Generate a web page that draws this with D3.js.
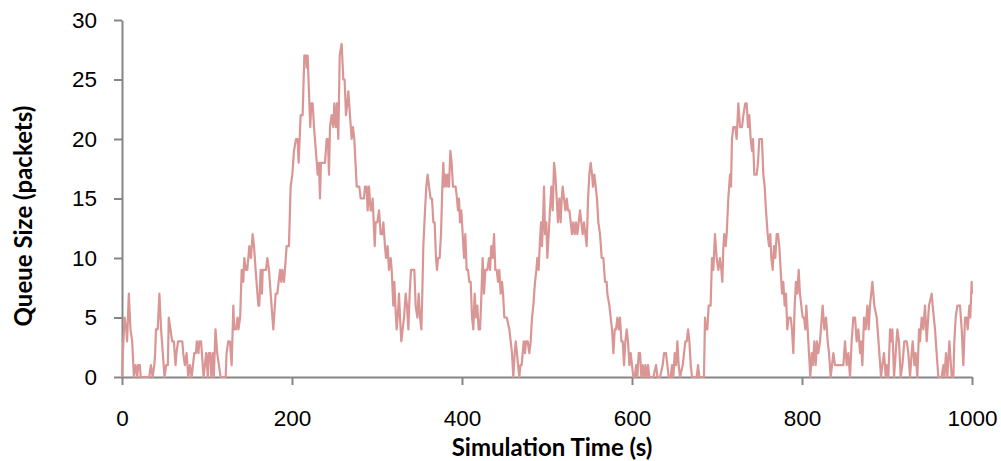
<!DOCTYPE html>
<html>
<head>
<meta charset="utf-8">
<script src="https://cdn.jsdelivr.net/npm/d3@7"></script>
<style>
    body { margin: 0; background: #fff; }
    svg { display: block; font-family: Lato, "Open Sans", sans-serif; }
    .axis path, .axis line { stroke: #868686; stroke-width: 2; }
    .axis text { fill: #000; font-size: 22.5px; }
    .title { font-weight: bold; font-size: 24px; fill: #000; }
</style>
</head>
<body>
<svg id="chart" width="1001" height="461"></svg>
<script>
// queue trace (time in s, size in packets)
let simTime = [
    0,1,3,5,6,8,10,12,14,16,18,19,21,22,32,34,36,38,39,40,42,44,46,47,50,52,54,55,57,59,
    61,63,64,66,71,72,74,76,78,80,82,85,87,88,90,91,93,94,96,99,101,102,104,105,107,108,110,112,114,116,
    122,123,125,127,129,131,132,134,136,137,139,
    140.8,142.7,143.9,145.9,147.4,149.8,151.7,153.7,155.3,157.2,160.4,161.5,163.1,164.7,165.5,169.4,171,172.9,178,180.8,
    182.7,184.3,185.9,187.4,188.6,190.6,193.7,196.4,198.4,200.4,202.3,204.7,206.6,207.8,209,210.2,212.5,214.5,216.4,217.2,
    218.4,221.5,222.7,224.3,225.9,227,230.2,231.7,232.9,234.1,238.8,240.8,242.3,243.5,244.7,246.6,248.6,249.8,251.7,252.9,
    254.5,256.1,258.4,260.4,261.9,263.5,265.1,266.3,268.2,270.2,271.7,273.3,276.1,279.2,280.8,
    282,284.7,285.9,287.8,289,290.6,292.5,293.7,294.9,296.1,297.3,298.4,300.4,302.4,304.3,306.3,307.5,309.4,310.6,312.5,
    314.1,316.1,317.3,319.2,320.4,321.6,323.1,324.3,325.9,327.1,328.6,330.2,331.8,333.7,335.3,336.9,338.4,340,343.9,345.5,
    347.5,349,350.6,352.2,353.3,354.5,356.5,358,359.6,361.2,363.1,364.7,366.3,367.8,369.4,370.6,371.8,373.7,375.3,376.9,
    378,379.2,380.4,382,383.1,384.7,386.3,387.8,389.4,391,392.5,394.1,395.3,396.5,397.6,399.2,400.8,402.4,403.9,405.5,
    407.1,408.6,410.2,411.8,413.3,414.9,416.5,418,419.6,
    421.2,422.4,424.3,425.9,427.5,429.8,431.8,433,434.5,436.1,437.7,439.2,440.8,442.4,443.9,445.5,447.1,448.3,449.8,452.6,
    455.7,457.3,458.8,460.4,462,463.2,464.7,465.9,467.5,468.7,470.2,471.4,472.6,474.1,475.3,477.3,479.2,480.8,482.4,483.9,
    485.9,487.5,488.6,490.2,491.4,493,494.1,495.3,496.5,497.7,499.2,500.4,502,503.5,505.1,506.7,508.3,509.8,511.4,512.9,
    514.5,516.1,517.3,518.5,520,521.6,523.2,524.7,526.3,527.9,529.4,531,532.6,534.1,535.7,537.3,538.9,540.4,542,543.5,
    545.1,546.7,548.3,549.8,551.4,553,554.1,555.7,557.3,558.8,560.4,562.4,564.3,566.3,
    568.3,570.2,571,573.4,574.9,576.5,578.1,579.7,581.2,582.8,584.4,585.9,587.5,589.1,590.6,592.2,593.8,595.3,596.9,598.5,
    600,601.6,603.2,604.8,606.3,607.9,609.5,611,612.6,614.2,615.7,617.3,618.9,620.4,625.1,628.3,629.9,633,636.1,637.7,
    640,641.6,643.2,645.5,647.1,648.7,650.2,651.8,653.4,654.9,656.5,659.7,661.2,662.8,664.4,666,667.5,669.1,670.6,676.1,
    677.7,679.3,684.7,
    685.9,687,688.6,690.2,692.5,694.1,695.7,697.6,699.6,701.6,703.5,705.1,706.3,707.5,708.6,710.2,711.4,713.3,715.3,716.5,
    717.6,719.2,721.6,723.1,725.1,727.1,729.4,731,733.3,734.9,736.5,738,739.6,741.2,742.4,743.9,746.7,748.2,749.8,752.9,
    754.5,756.1,757.6,759.6,761.2,762.7,763.9,765.5,767.1,768.6,770.2,771.8,773.3,774.9,776.5,778,779.6,781.2,782.7,784.3,
    786.7,788.2,789.8,791.4,792.9,794.5,796.1,797.6,799.2,800.8,802.4,803.9,805.1,806.7,808.2,809.8,811.4,812.9,814.5,816.1,
    817.6,819.2,
    821.2,824.3,826.3,828.3,830.2,831.8,833.7,835.3,836.9,838.8,840.8,848.7,850.6,852.6,854.5,856.5,858.4,860.4,862.4,864.3,
    866.3,868.3,869.4,871,873,874.9,876.9,878.5,880,882.8,885.1,887.9,889,891,893,894.5,896.5,898.5,899.6,901.6,
    903.6,905.1,906.3,908.3,910.2,912.2,914.1,916.1,918.1,920.4,923.2,925.1,927.1,929,930.2,932.2,933.7,935.7,937.7,938.8,
    940.8,942.8,944.7,946.7,949.4,952.6,953.7,956.5,958.4,960.4,964.3,966.3,967.5,969.4,971,973.4,976.1,978.1,979.2,980.8,
    982.8,985.9,987.9,989.8,991.8,993.7,994.9,996.9,998,999.6,1000
];
let queueSize = [
    0,2,5,4,3,7,4,3,0,1,0,1,1,0,0,1,0,1,2,4,4,7,4,3,0,1,1,5,4,3,
    3,1,2,3,3,2,1,2,0,1,0,2,2,3,2,3,3,2,0,2,0,2,2,0,2,0,4,2,1,0,
    0,2,3,3,1,6,4,4,5,4,5,
    9,8,10,9,9,11,10,12,11,9,6,6,9,7,9,9,10,9,4,7,
    7,8,9,8,9,8,11,11,16,17,19,20,20,18,20,22,22,27,27,26,
    27,21,23,23,21,20,17,18,15,18,18,20,20,17,21,22,21,23,21,23,
    20,27,28,25,25,22,23,24,22,20,21,20,16,16,15,
    15,15,16,16,14,16,14,14,15,13,11,13,13,14,12,12,13,11,10,11,
    9,10,9,6,8,6,4,5,7,5,3,4,5,7,6,4,7,9,9,6,
    5,7,5,4,7,11,14,16,17,16,15,15,13,13,10,9,10,10,12,16,
    18,16,17,16,17,16,19,18,16,16,16,15,14,15,13,14,12,10,12,9,
    9,8,8,5,4,7,5,6,4,
    4,6,10,7,9,9,10,9,11,10,12,9,9,8,9,7,8,7,5,5,
    4,3,2,0,2,3,2,1,0,1,1,2,3,2,3,3,2,3,5,6,
    8,9,10,9,11,13,11,13,16,12,13,10,12,14,16,14,18,17,15,13,
    15,13,15,16,15,14,15,14,14,13,12,13,12,13,12,13,14,13,12,13,
    12,11,15,17,18,17,16,17,16,15,13,12,10,10,
    8,8,7,6,5,4,2,4,4,5,4,5,3,3,1,3,4,3,1,2,
    1,0,0,1,0,2,2,0,1,0,1,0,1,0,0,1,0,0,1,2,
    2,1,0,0,1,0,2,1,3,1,0,1,2,3,3,4,3,1,0,0,
    1,0,0,
    5,4,4,6,6,10,9,12,10,9,10,9,8,11,12,11,12,15,17,16,
    20,21,21,20,23,21,21,22,23,23,21,22,20,19,20,17,17,18,20,20,
    17,16,14,12,11,12,10,9,11,10,12,12,11,9,7,8,6,7,4,5,
    5,4,2,6,8,7,9,7,6,5,5,4,6,4,2,0,2,1,3,1,
    3,2,
    3,6,4,5,3,2,0,1,2,1,1,1,3,1,2,0,3,5,5,3,
    4,2,3,1,5,4,6,4,6,8,6,5,4,2,0,1,2,0,1,0,
    4,3,4,0,2,4,3,0,1,3,3,2,0,2,3,1,2,0,4,3,
    5,4,6,3,6,7,6,4,2,0,0,1,0,2,0,3,0,0,3,5,
    6,6,4,1,5,5,4,6,5,8,7
];
let xTicks = [0, 200, 400, 600, 800, 1000];
let yTicks = [0, 5, 10, 15, 20, 25, 30];

let width = 1001, height = 461;
let margin = {top: 20, right: 29, bottom: 84, left: 122};

let svg = d3.select("#chart");

let x = d3.scaleLinear()
    .domain([0, 1000])
    .range([margin.left, width - margin.right]);

let y = d3.scaleLinear()
    .domain([0, 30])
    .range([height - margin.bottom, margin.top]);

svg.append("g")
    .attr("class", "axis")
    .attr("transform", `translate(${margin.left},0)`)
    .call(d3.axisLeft(y).tickValues(yTicks).tickSize(8).tickSizeOuter(0).tickPadding(17));

svg.append("g")
    .attr("class", "axis")
    .attr("transform", `translate(0,${height - margin.bottom})`)
    .call(d3.axisBottom(x).tickValues(xTicks).tickFormat(d3.format("d"))
        .tickSize(8).tickSizeOuter(0).tickPadding(25));

let points = simTime.map((t, i) => [t, queueSize[i]]);

let line = d3.line()
    .x(d => x(d[0]))
    .y(d => y(d[1]));

svg.append("path")
    .datum(points)
    .attr("fill", "none")
    .attr("stroke", "#d99694")
    .attr("stroke-width", 2.2)
    .attr("stroke-linejoin", "round")
    .attr("d", line);

svg.append("text")
    .attr("class", "title")
    .attr("x", 552)
    .attr("y", 456)
    .attr("text-anchor", "middle")
    .text("Simulation Time (s)");

svg.append("text")
    .attr("class", "title")
    .attr("transform", "translate(32,216) rotate(-90)")
    .attr("text-anchor", "middle")
    .text("Queue Size (packets)");
</script>
</body>
</html>
